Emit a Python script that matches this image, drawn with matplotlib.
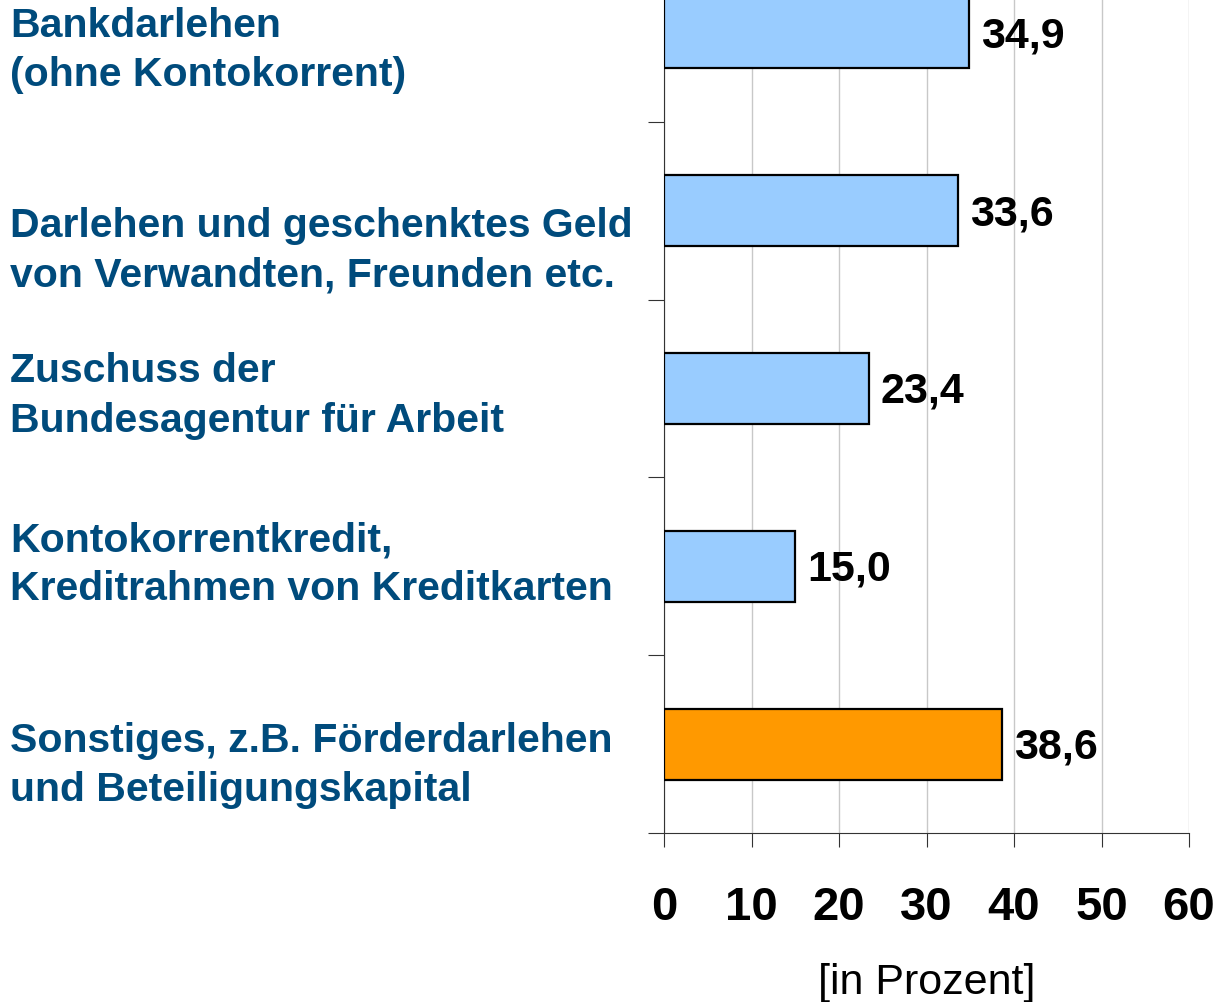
import matplotlib.pyplot as plt
from matplotlib.transforms import blended_transform_factory

# data
categories = [
    ("Bankdarlehen", "(ohne Kontokorrent)"),
    ("Darlehen und geschenktes Geld", "von Verwandten, Freunden etc."),
    ("Zuschuss der", "Bundesagentur für Arbeit"),
    ("Kontokorrentkredit,", "Kreditrahmen von Kreditkarten"),
    ("Sonstiges, z.B. Förderdarlehen", "und Beteiligungskapital"),
]
values = [34.9, 33.6, 23.4, 15.0, 38.6]
value_labels = ["34,9", "33,6", "23,4", "15,0", "38,6"]
bar_colors = ["#99CCFF", "#99CCFF", "#99CCFF", "#99CCFF", "#FF9900"]
xticks = [0, 10, 20, 30, 40, 50, 60]

# first-line baseline offset of each category label, in category units
label_shift = [0.022, 0.149, -0.034, -0.084, 0.042]
line_gap = 0.276

label_color = "#004B7C"

plt.rcParams['font.family'] = ['Liberation Sans', 'DejaVu Sans']

fig = plt.figure(figsize=(12.15, 10.02), dpi=100)
ax = fig.add_axes([664 / 1215, 169 / 1002, 525 / 1215, 889 / 1002])

y = list(range(len(values)))
ax.barh(y, values, height=0.4, color=bar_colors, edgecolor='black',
        linewidth=1.6, zorder=3)

ax.set_xlim(0, 60)
ax.set_ylim(4.5, -0.5)

ax.set_xticks(xticks)
ax.set_xticklabels([str(t) for t in xticks], fontsize=34, fontweight='bold')
ax.tick_params(axis='x', direction='out', length=10, width=0.8, pad=28,
               color='#333333')
ax.set_yticks([i + 0.5 for i in range(-1, len(values))])
ax.set_yticklabels([])
ax.tick_params(axis='y', direction='out', length=11.5, width=0.8,
               color='#333333')

ax.grid(axis='x', color='#C8C8C8', linewidth=1.0, zorder=0)
ax.set_axisbelow(True)
for s in ['top', 'right']:
    ax.spines[s].set_visible(False)
for s in ['left', 'bottom']:
    ax.spines[s].set_color('#333333')
    ax.spines[s].set_linewidth(0.8)

ax.set_xlabel("[in Prozent]", fontsize=31, labelpad=24)

# value labels
for yi, v, lab in zip(y, values, value_labels):
    ax.annotate(lab, xy=(v, yi), xytext=(8.5, -2.5), textcoords='offset points',
                ha='left', va='center', fontsize=31, fontweight='bold',
                color='black')

# category labels on the left
trans = blended_transform_factory(fig.transFigure, ax.transData)
for yi, (l1, l2), dy in zip(y, categories, label_shift):
    ax.text(10 / 1215, yi + dy, l1, transform=trans, ha='left', va='baseline',
            fontsize=29.5, fontweight='bold', color=label_color, clip_on=False)
    ax.text(10 / 1215, yi + dy + line_gap, l2, transform=trans, ha='left',
            va='baseline', fontsize=29.5, fontweight='bold', color=label_color,
            clip_on=False)

fig.savefig('out.png', dpi=100)
